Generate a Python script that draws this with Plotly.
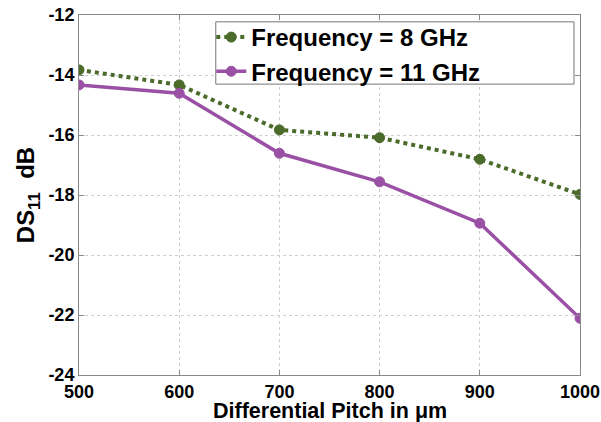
import plotly.graph_objects as go

pitch = [500, 600, 700, 800, 900, 1000]
ds11_8ghz = [-13.83, -14.33, -15.83, -16.09, -16.81, -17.98]
ds11_11ghz = [-14.33, -14.61, -16.61, -17.56, -18.94, -22.11]
x_ticks = [500, 600, 700, 800, 900, 1000]
y_ticks = [-24, -22, -20, -18, -16, -14, -12]

green = "#4b6b2b"
purple = "#9a50a5"

fig = go.Figure()
fig.add_trace(go.Scatter(
    x=pitch, y=ds11_8ghz, mode="lines+markers", name="<b>Frequency = 8 GHz</b>",
    line=dict(color=green, width=4, dash="dot"),
    marker=dict(symbol="circle", size=10, color=green, line=dict(color=green, width=1))))
fig.add_trace(go.Scatter(
    x=pitch, y=ds11_11ghz, mode="lines+markers", name="<b>Frequency = 11 GHz</b>",
    line=dict(color=purple, width=3.5),
    marker=dict(symbol="circle", size=10, color=purple, line=dict(color=purple, width=1))))

font_family = "Liberation Sans"
fig.add_shape(type="rect", xref="paper", yref="paper",
              x0=0.273, x1=0.988, y0=0.808, y1=0.981,
              fillcolor="white", line=dict(color="#777777", width=1), layer="above")
fig.add_annotation(text="<b>Differential Pitch in μm</b>", xref="paper", yref="paper",
                   x=0.5, y=-0.1, xanchor="center", yanchor="middle", showarrow=False,
                   font=dict(family=font_family, size=21.5, color="black"))
fig.update_layout(
    width=601, height=422,
    margin=dict(l=79, r=21, t=15, b=47),
    paper_bgcolor="white", plot_bgcolor="white",
    font=dict(family=font_family, color="black"),
    showlegend=True,
    legend=dict(
        x=0.264, y=1.0, xanchor="left", yanchor="top",
        bgcolor="rgba(0,0,0,0)", borderwidth=0,
        font=dict(family=font_family, size=24, color="black"),
        tracegroupgap=0, itemwidth=30,
    ),
    xaxis=dict(
        range=[500, 1000], tickvals=x_ticks, ticktext=["<b>%d</b>" % v for v in x_ticks],
        showgrid=True, gridcolor="#cfcfcf", griddash="dot", gridwidth=1,
        showline=True, linecolor="#888888", linewidth=1, mirror="ticks",
        ticks="inside", ticklen=5, tickcolor="#888888", automargin=False,
        tickfont=dict(family=font_family, size=18, color="black", weight="bold"),
        zeroline=False,
    ),
    yaxis=dict(
        range=[-24, -12], tickvals=y_ticks, ticktext=["<b>%d</b>" % v for v in y_ticks],
        showgrid=True, gridcolor="#cfcfcf", griddash="dot", gridwidth=1,
        showline=True, linecolor="#888888", linewidth=1, mirror="ticks",
        ticks="inside", ticklen=5, tickcolor="#888888", automargin=False,
        tickfont=dict(family=font_family, size=18, color="black", weight="bold"),
        title=dict(text="<b>DS<sub>11</sub>  dB</b>", standoff=6,
                   font=dict(family=font_family, size=24, color="black")),
        zeroline=False,
    ),
)

fig.write_html("out.html")
